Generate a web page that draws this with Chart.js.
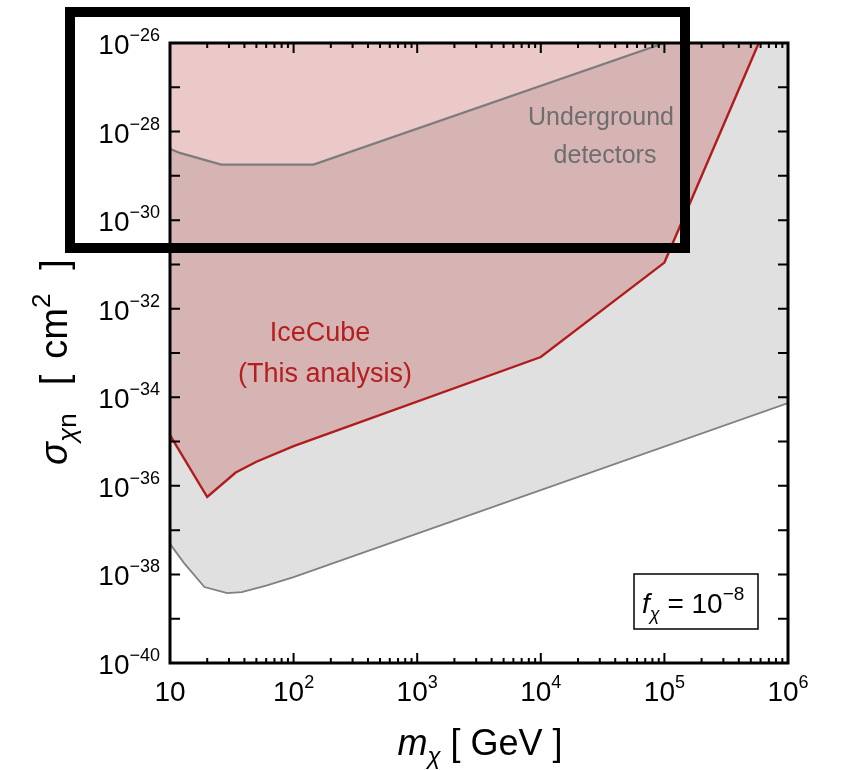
<!DOCTYPE html>
<html><head><meta charset="utf-8">
<script src="https://cdn.jsdelivr.net/npm/chart.js@4"></script>
<style>html,body{margin:0;padding:0;background:#fff}#wrap{width:842px;height:770px}</style>
</head><body><div id="wrap"><canvas id="c" width="842" height="770"></canvas></div>
<script>
// ---- data ----
const massLower = [10, 13, 19, 29, 38, 60, 100, 1e6];
const sigmaLower = [4.9e-38, 1.8e-38, 5.2e-39, 3.8e-39, 4.0e-39, 5.6e-39, 8.7e-39, 7.4e-35];

const massUnderground = [10, 12, 26, 145, 1e5];
const sigmaUnderground = [4.1e-29, 3.3e-29, 1.8e-29, 1.8e-29, 1e-26];
// upper boundary of the region continues along the top edge
const massUndergroundEdge = [10, 12, 26, 145, 1e5, 1e6];
const sigmaUndergroundEdge = [4.1e-29, 3.3e-29, 1.8e-29, 1.8e-29, 1e-26, 1e-26];

const massIceCube = [10, 20, 34, 50, 100, 1e4, 1e5, 5.8e5];
const sigmaIceCube = [1.4e-35, 5.6e-37, 2.0e-36, 3.5e-36, 7.9e-36, 8.1e-34, 1.1e-31, 1e-26];

const xTickValues = [10, 100, 1e3, 1e4, 1e5, 1e6];
const xTickExp = ["", "2", "3", "4", "5", "6"];
const yTickValues = [1e-40, 1e-38, 1e-36, 1e-34, 1e-32, 1e-30, 1e-28, 1e-26];
const yTickExp = ["\u221240", "\u221238", "\u221236", "\u221234", "\u221232", "\u221230", "\u221228", "\u221226"];
const yDecades = [1e-40,1e-39,1e-38,1e-37,1e-36,1e-35,1e-34,1e-33,1e-32,1e-31,1e-30,1e-29,1e-28,1e-27,1e-26];

const pts = (xs, ys) => xs.map((x, i) => ({x, y: ys[i]}));
const FF = "'Liberation Sans', Arial, sans-serif";

function drawParts(ctx, x, y, parts, align) {
  let w = 0;
  parts.forEach(p => { ctx.font = p.f; p.w = ctx.measureText(p.t).width + (p.gap || 0); w += p.w; });
  let cx = align === 'center' ? x - w / 2 : align === 'right' ? x - w : x;
  parts.forEach(p => { ctx.font = p.f; ctx.fillText(p.t, cx, y + (p.dy || 0)); cx += p.w; });
}

const decor = {
  id: 'decor',
  afterDraw(chart) {
    const ctx = chart.ctx, a = chart.chartArea;
    const xs = chart.scales.x, ys = chart.scales.y;
    ctx.save();
    ctx.textBaseline = 'alphabetic';
    // frame
    ctx.strokeStyle = '#000';
    ctx.lineWidth = 3;
    ctx.strokeRect(a.left, a.top, a.right - a.left, a.bottom - a.top);
    // ticks
    ctx.lineWidth = 2;
    ctx.beginPath();
    xTickValues.forEach((v, i) => {
      const px = xs.getPixelForValue(v);
      ctx.moveTo(px, a.bottom); ctx.lineTo(px, a.bottom - 10);
      ctx.moveTo(px, a.top); ctx.lineTo(px, a.top + 10);
      if (i < xTickValues.length - 1) {
        for (let k = 2; k <= 9; k++) {
          const pm = xs.getPixelForValue(v * k);
          ctx.moveTo(pm, a.bottom); ctx.lineTo(pm, a.bottom - 5);
          ctx.moveTo(pm, a.top); ctx.lineTo(pm, a.top + 5);
        }
      }
    });
    yDecades.forEach(v => {
      const py = ys.getPixelForValue(v);
      ctx.moveTo(a.left, py); ctx.lineTo(a.left + 10, py);
      ctx.moveTo(a.right, py); ctx.lineTo(a.right - 10, py);
    });
    ctx.stroke();
    // tick labels
    ctx.fillStyle = '#000';
    const fB = '28px ' + FF, fE = '18px ' + FF;
    xTickValues.forEach((v, i) => {
      const px = xs.getPixelForValue(v);
      const parts = [{t: '10', f: fB}];
      if (xTickExp[i]) parts.push({t: xTickExp[i], f: fE, dy: -13});
      drawParts(ctx, px, a.bottom + 38, parts, 'center');
    });
    yTickValues.forEach((v, i) => {
      const py = ys.getPixelForValue(v);
      drawParts(ctx, a.left - 10, py + 11, [{t: '10', f: fB}, {t: yTickExp[i], f: fE, dy: -13}], 'right');
    });
    // axis titles
    drawParts(ctx, 480, 755, [
      {t: 'm', f: 'italic 36px ' + FF},
      {t: '\u03c7', f: 'italic 24px ' + FF, dy: 9},
      {t: ' [ GeV ]', f: '36px ' + FF}
    ], 'center');
    ctx.save();
    ctx.translate(67, 362);
    ctx.rotate(-Math.PI / 2);
    drawParts(ctx, 0, 0, [
      {t: '\u03c3', f: 'italic 38px ' + FF},
      {t: '\u03c7', f: 'italic 26px ' + FF, dy: 9},
      {t: 'n', f: '26px ' + FF, dy: 9, gap: 28},
      {t: '[', f: '38px ' + FF, gap: 16},
      {t: 'cm', f: '38px ' + FF},
      {t: '2', f: '26px ' + FF, dy: -17, gap: 24},
      {t: ']', f: '38px ' + FF}
    ], 'center');
    ctx.restore();
    // region labels
    ctx.fillStyle = '#6e6e6e';
    drawParts(ctx, 601, 125, [{t: 'Underground', f: '25px ' + FF}], 'center');
    drawParts(ctx, 605, 163, [{t: 'detectors', f: '25px ' + FF}], 'center');
    ctx.fillStyle = '#b41e1e';
    drawParts(ctx, 320, 341, [{t: 'IceCube', f: '27px ' + FF}], 'center');
    drawParts(ctx, 325, 382, [{t: '(This analysis)', f: '27px ' + FF}], 'center');
    // f_chi box
    ctx.fillStyle = '#fff';
    ctx.fillRect(634, 574, 124, 55);
    ctx.strokeStyle = '#000';
    ctx.lineWidth = 1.5;
    ctx.strokeRect(634, 574, 124, 55);
    ctx.fillStyle = '#000';
    drawParts(ctx, 642, 613, [
      {t: 'f', f: 'italic 28px ' + FF},
      {t: '\u03c7', f: 'italic 18px ' + FF, dy: 7},
      {t: ' = 10', f: '28px ' + FF},
      {t: '\u22128', f: '19px ' + FF, dy: -13}
    ], 'left');
    // highlight box
    ctx.lineWidth = 10;
    ctx.strokeStyle = '#000';
    ctx.strokeRect(70, 12, 615, 236);
    ctx.restore();
  }
};

new Chart(document.getElementById('c'), {
  type: 'line',
  data: {
    datasets: [
      {data: pts(massLower, sigmaLower), fill: 'end', backgroundColor: '#e0e0e0',
       borderColor: '#808080', borderWidth: 1.8, order: 4},
      {data: pts(massUndergroundEdge, sigmaUndergroundEdge), fill: 'end', backgroundColor: '#ffffff',
       borderWidth: 0, borderColor: 'rgba(0,0,0,0)', order: 3},
      {data: pts(massIceCube, sigmaIceCube), fill: 'end', backgroundColor: 'rgba(192,87,87,0.32)',
       borderColor: '#b01c1c', borderWidth: 2.4, order: 2},
      {data: pts(massUnderground, sigmaUnderground), fill: false,
       borderColor: '#7c7c7c', borderWidth: 2.2, order: 1}
    ]
  },
  options: {
    responsive: false,
    animation: false,
    devicePixelRatio: 1,
    elements: {point: {radius: 0}, line: {tension: 0}},
    layout: {padding: {left: 170, right: 54, top: 43, bottom: 107}},
    plugins: {legend: {display: false}, tooltip: {enabled: false}},
    scales: {
      x: {type: 'logarithmic', min: 10, max: 1e6, display: false},
      y: {type: 'logarithmic', min: 1e-40, max: 1e-26, display: false}
    }
  },
  plugins: [decor]
});
</script>
</body></html>
